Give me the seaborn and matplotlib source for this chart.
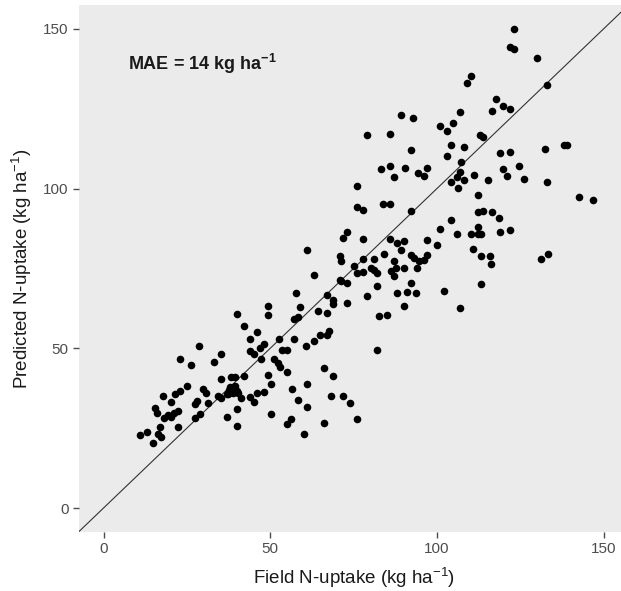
import matplotlib
matplotlib.use("Agg")
import matplotlib.pyplot as plt
import seaborn as sns
import pandas as pd

# Field-measured vs predicted N-uptake (kg/ha)
field_n = [
    49.2, 49.2, 39.9, 42.0, 46.0, 44.0, 48.0, 47.0, 43.9, 45.2, 47.2, 52.7,
    28.6, 23.0, 26.1, 35.1, 33.1, 51.2, 52.2, 49.3, 50.1,
    35.1, 38.1, 39.5, 42.0, 25.0, 29.8, 30.8, 22.8, 21.5, 17.9, 20.2, 31.2,
    27.4, 27.9, 34.2, 35.2, 37.4, 38.0, 39.3, 37.7, 38.7, 40.0, 37.0, 40.2,
    41.2, 44.0, 46.0, 48.0, 45.0, 39.9, 37.0, 39.9, 50.1, 29.0, 27.4, 22.2,
    15.4, 16.0, 18.2, 19.3, 20.2, 21.2, 22.2, 16.9, 16.3, 17.2, 13.0, 11.0,
    14.9, 53.0,
    71.1, 73.1, 81.9, 79.1, 87.9, 91.1, 93.7, 92.1, 90.1, 82.7, 85.1, 81.9,
    57.7, 66.9, 68.9, 68.9, 73.1, 59.0, 64.2, 66.9, 57.0, 58.2, 67.5, 66.9,
    64.9, 63.0, 60.6, 57.0, 53.4, 55.0, 55.0, 66.1, 68.9, 61.0, 56.5, 58.2,
    61.0, 68.1, 71.8, 73.8, 75.9, 66.1, 56.2, 54.9, 60.2,
    83.1, 85.9, 90.4, 87.1, 94.4, 96.1, 96.9, 75.9, 83.9, 85.9, 75.9, 77.9,
    92.1, 73.1, 71.9, 77.9, 61.0, 85.9, 88.1, 90.1, 89.1, 96.9, 70.9, 71.3,
    77.9, 81.1, 84.1, 75.1, 80.1, 75.9, 77.9, 81.9, 81.1, 87.1, 87.6, 90.1,
    86.1, 87.1, 92.1, 93.1, 94.6, 96.1, 96.9, 94.1, 63.0, 70.9,
    107.1, 106.9, 106.1, 104.3, 108.1, 106.3, 111.0, 115.4, 119.9, 121.1,
    124.6, 126.0, 133.1, 142.5, 146.8, 112.2, 112.2, 113.9, 116.6, 118.7,
    104.1, 100.9, 106.1, 110.1, 112.2, 112.2, 113.3, 119.0, 121.8, 100.1,
    110.9, 113.1, 115.8, 116.3, 131.2, 133.2, 113.1, 102.1, 106.9,
    89.2, 92.9, 79.1, 85.9, 92.1,
    123.1, 121.8, 123.2, 129.9, 110.3, 109.1, 133.1, 117.8, 119.9, 121.8,
    116.6, 106.9, 100.9, 104.9, 102.9, 112.8, 113.9, 104.1, 108.1, 102.9,
    119.0, 121.8, 132.4, 138.0, 139.0,
]
predicted_n = [
    63.4, 60.5, 60.8, 57.1, 55.1, 52.8, 51.3, 50.1, 49.2, 48.3, 46.8, 53.0,
    50.7, 46.8, 44.7, 48.3, 45.7, 46.6, 45.4, 41.7, 38.8,
    40.5, 41.0, 41.0, 41.4, 38.3, 37.3, 36.0, 36.7, 35.8, 35.2, 33.3, 32.8,
    32.6, 33.5, 35.0, 34.3, 35.6, 38.0, 38.2, 37.0, 36.0, 36.5, 35.7, 36.0,
    34.4, 34.7, 36.0, 36.4, 33.1, 30.9, 28.4, 25.8, 29.6, 29.6, 28.3, 25.5,
    31.3, 29.7, 28.3, 29.2, 28.6, 29.7, 30.5, 25.5, 23.2, 22.4, 23.9, 22.9,
    20.3, 44.3,
    71.2, 70.4, 69.4, 66.4, 67.2, 67.6, 67.2, 70.4, 63.4, 60.1, 60.4, 49.4,
    67.2, 66.7, 65.0, 63.9, 64.3, 62.9, 61.7, 61.2, 59.2, 59.7, 55.4, 54.1,
    54.1, 52.4, 50.7, 52.8, 49.5, 49.4, 42.6, 43.9, 41.3, 38.8, 37.2, 33.9,
    31.7, 35.1, 35.1, 32.8, 27.9, 26.6, 27.9, 26.2, 23.2,
    106.2, 107.0, 106.6, 103.7, 104.9, 104.1, 106.6, 100.7, 95.2, 95.2, 94.1,
    93.4, 93.1, 86.3, 84.5, 84.1, 80.7, 84.1, 83.0, 83.5, 80.9, 83.8, 78.8,
    77.2, 78.0, 78.0, 79.5, 75.9, 75.1, 73.6, 73.8, 73.6, 74.6, 77.2, 75.1,
    75.1, 74.1, 72.5, 79.3, 78.3, 77.2, 77.7, 79.3, 75.1, 73.0, 71.5,
    108.2, 105.1, 103.7, 102.1, 102.6, 100.1, 104.4, 102.6, 106.2, 104.0,
    107.0, 103.1, 102.2, 97.3, 96.3, 98.1, 92.6, 93.1, 92.6, 90.8,
    90.3, 87.5, 85.8, 85.8, 87.9, 85.8, 85.8, 86.3, 87.1, 82.4,
    81.2, 79.0, 79.0, 76.5, 78.1, 79.4, 70.1, 68.0, 62.6,
    123.0, 122.2, 116.7, 117.0, 112.0,
    150.0, 144.2, 143.7, 140.8, 135.3, 133.2, 132.4, 128.1, 126.0, 124.8,
    124.4, 123.9, 119.6, 120.5, 118.0, 116.8, 116.2, 113.7, 112.9, 110.3,
    111.2, 111.6, 112.4, 113.7, 113.7,
]
axis_ticks = [0, 50, 100, 150]
mae_label = r"MAE = 14 kg ha$^{\mathbf{-1}}$"

df = pd.DataFrame({"field": field_n, "predicted": predicted_n})

sns.set_style("white")
plt.rcParams["font.family"] = ["Liberation Sans", "DejaVu Sans"]
plt.rcParams["mathtext.fontset"] = "custom"
plt.rcParams["mathtext.rm"] = "Liberation Sans"
plt.rcParams["mathtext.it"] = "Liberation Sans:italic"
plt.rcParams["mathtext.bf"] = "Liberation Sans:bold"

W, H = 621, 591
fig = plt.figure(figsize=(W / 100, H / 100), dpi=100)
fig.patch.set_facecolor("white")
left, right, top, bottom = 78.5, 628.5, 5, 532
ax = fig.add_axes([left / W, 1 - bottom / H, (right - left) / W, (bottom - top) / H])
ax.set_facecolor("#EBEBEB")

sns.scatterplot(data=df, x="field", y="predicted", ax=ax, color="black",
                s=30, linewidth=0, zorder=3)
ax.axline((0, 0), slope=1, color="#333333", linewidth=0.8, zorder=2)

ax.set_xlim(-7.5, 157.5)
ax.set_ylim(-7.5, 157.5)
ax.set_xticks(axis_ticks)
ax.set_yticks(axis_ticks)
ax.grid(False)
for s in ax.spines.values():
    s.set_visible(False)
ax.tick_params(axis="both", which="major", length=4, width=1, color="#4D4D4D",
               labelcolor="#4D4D4D", labelsize=11, direction="out", pad=3,
               bottom=True, left=True)

ax.set_xlabel(r"Field N-uptake (kg ha$^{-1}$)", fontsize=13.5, color="#1A1A1A")
ax.set_ylabel(r"Predicted N-uptake (kg ha$^{-1}$)", fontsize=13.5, color="#1A1A1A")
ax.xaxis.label.set_va("center")
ax.yaxis.label.set_va("center")
ax.xaxis.set_label_coords(0.5, (bottom - 578) / (bottom - top))
ax.yaxis.set_label_coords((22 - left) / (right - left), 0.5)

ax.text(7.4, 139, mae_label, fontsize=13, fontweight="bold", color="#1A1A1A",
        ha="left", va="center")

fig.savefig("out.png", dpi=100)
